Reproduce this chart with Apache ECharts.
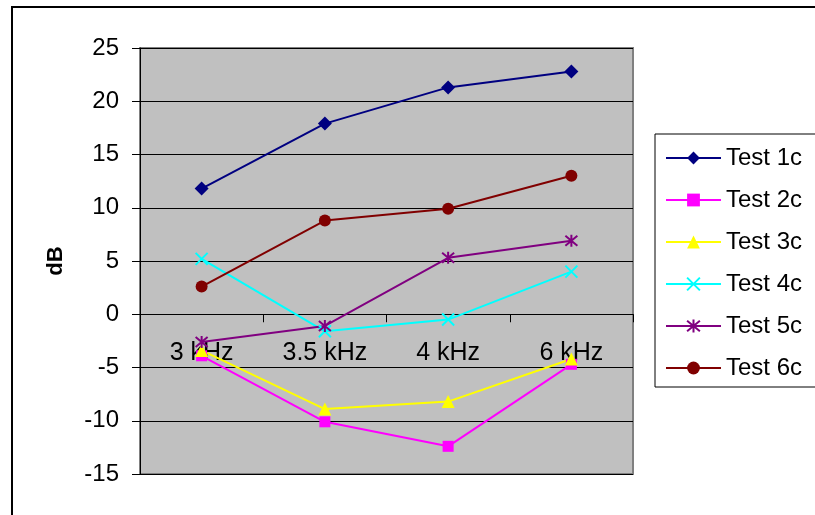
<!DOCTYPE html>
<html>
<head>
<meta charset="utf-8">
<script src="https://cdn.jsdelivr.net/npm/echarts@6/dist/echarts.min.js"></script>
<style>
  html, body { margin: 0; padding: 0; background: #fff; }
  #chart { width: 815px; height: 515px; }
</style>
</head>
<body>
<div id="chart"></div>
<script>
// Frequencies on the category axis
const frequencies = ['3 kHz', '3.5 kHz', '4 kHz', '6 kHz'];

// Level in dB for each test run
const test1c = [11.8, 17.9, 21.3, 22.8];
const test2c = [-3.9, -10.1, -12.4, -4.7];
const test3c = [-3.4, -8.9, -8.2, -4.2];
const test4c = [5.2, -1.6, -0.5, 4.0];
const test5c = [-2.6, -1.1, 5.3, 6.9];
const test6c = [2.6, 8.8, 9.9, 13.0];

// Value axis ticks
const yMin = -15, yMax = 25, yStep = 5;

const FONT = '"Liberation Sans", Arial, sans-serif';

// Plot rectangle
const PLOT = { left: 140, top: 48, width: 493, height: 426 };
// The category axis is drawn across the 0 dB line
const zeroShift = -PLOT.height * (0 - yMin) / (yMax - yMin);

const crossPath = 'path://M0,0L10,10M10,0L0,10';
const asteriskPath = 'path://M0,0L10,10M10,0L0,10M5,-1L5,11';

function lineSeries(name, data, color, symbol, size, stroked) {
  return {
    name: name,
    type: 'line',
    data: data,
    symbol: symbol,
    symbolSize: size,
    showAllSymbol: true,
    lineStyle: { color: color, width: 2 },
    itemStyle: stroked
      ? { color: 'none', borderColor: color, borderWidth: 2 }
      : { color: color, borderWidth: 0 },
    emphasis: { disabled: true },
    animation: false
  };
}

const chart = echarts.init(document.getElementById('chart'), null, { renderer: 'canvas' });

chart.setOption({
  backgroundColor: '#ffffff',
  animation: false,
  textStyle: { fontFamily: FONT },
  grid: {
    left: PLOT.left, top: PLOT.top, width: PLOT.width, height: PLOT.height,
    outerBoundsMode: 'none',
    containLabel: false,
    show: true,
    backgroundColor: '#c0c0c0',
    borderColor: '#808080',
    borderWidth: 2
  },
  xAxis: {
    type: 'category',
    data: frequencies,
    boundaryGap: true,
    offset: zeroShift,
    axisLine: { onZero: false, lineStyle: { color: '#000', width: 1 } },
    axisTick: { show: true, length: 8, lineStyle: { color: '#000' } },
    axisLabel: { color: '#000', fontSize: 25, fontFamily: FONT, margin: 26 },
    splitLine: { show: false }
  },
  yAxis: {
    type: 'value',
    min: yMin, max: yMax, interval: yStep,
    name: 'dB',
    nameLocation: 'middle',
    nameGap: 73,
    nameRotate: 90,
    nameTextStyle: { color: '#000', fontSize: 22, fontWeight: 'bold', fontFamily: FONT },
    axisLine: { show: true, onZero: false, lineStyle: { color: '#000', width: 1 } },
    axisTick: { show: true, length: 8, lineStyle: { color: '#000' } },
    axisLabel: { color: '#000', fontSize: 24, fontFamily: FONT, margin: 21 },
    splitLine: { show: true, lineStyle: { color: '#000', width: 1 } }
  },
  legend: {
    orient: 'vertical',
    left: 655, top: 134,
    padding: [12, 16, 7, 10],
    itemGap: 18,
    itemWidth: 55,
    itemHeight: 16,
    borderColor: '#000',
    borderWidth: 1,
    backgroundColor: '#fff',
    selectedMode: false,
    textStyle: { color: '#000', fontSize: 24, fontFamily: FONT }
  },
  graphic: [{
    type: 'rect',
    shape: { x: 12, y: 7, width: 900, height: 600 },
    style: { fill: 'none', stroke: '#000', lineWidth: 2 },
    silent: true,
    z: 100
  }],
  series: [
    lineSeries('Test 1c', test1c, '#000080', 'diamond', 14, false),
    lineSeries('Test 2c', test2c, '#ff00ff', 'rect', 11, false),
    lineSeries('Test 3c', test3c, '#ffff00', 'triangle', 13, false),
    lineSeries('Test 4c', test4c, '#00ffff', crossPath, 12, true),
    lineSeries('Test 5c', test5c, '#800080', asteriskPath, 12, true),
    lineSeries('Test 6c', test6c, '#800000', 'circle', 12, false)
  ]
});
</script>
</body>
</html>
